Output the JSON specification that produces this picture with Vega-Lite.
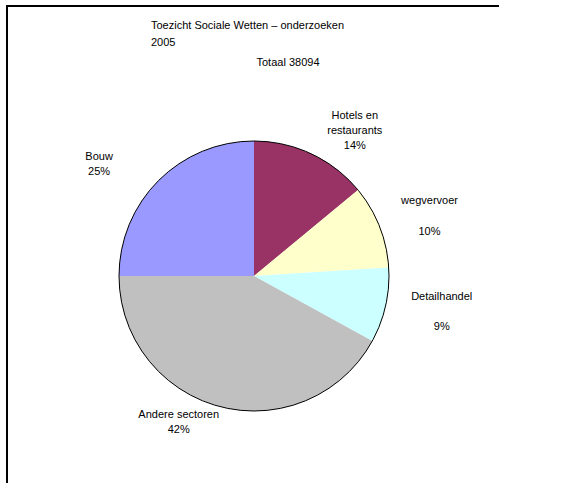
{
  "$schema": "https://vega.github.io/schema/vega-lite/v6.json",
  "autosize": {"type": "none"},
  "padding": {"left": 7, "top": 6, "right": 0, "bottom": 0},
  "width": 494,
  "height": 540,
  "background": "white",
  "config": {
    "view": {"stroke": null},
    "font": "Liberation Sans"
  },
  "title": {
    "text": ["Toezicht Sociale Wetten – onderzoeken", "2005"],
    "anchor": "start",
    "align": "left",
    "dx": 145,
    "offset": -43,
    "font": "Liberation Sans",
    "fontSize": 11,
    "fontWeight": "normal",
    "lineHeight": 17,
    "color": "#000"
  },
  "data": {
    "values": [
      {"rank": 1, "sector": "Hotels en restaurants", "pct": 14, "label": ["Hotels en", "restaurants", "14%"]},
      {"rank": 2, "sector": "wegvervoer", "pct": 10, "label": ["wegvervoer", "10%"]},
      {"rank": 3, "sector": "Detailhandel", "pct": 9, "label": ["Detailhandel", "9%"]},
      {"rank": 4, "sector": "Andere sectoren", "pct": 42, "label": ["Andere sectoren", "42%"]},
      {"rank": 5, "sector": "Bouw", "pct": 25, "label": ["Bouw", "25%"]}
    ]
  },
  "encoding": {
    "theta": {"field": "pct", "type": "quantitative", "stack": true},
    "order": {"field": "rank", "type": "quantitative"}
  },
  "layer": [
    {
      "mark": {
        "type": "rect",
        "fill": null,
        "strokeWidth": 2,
        "stroke": {
          "gradient": "linear",
          "x1": 0, "y1": 0, "x2": 1, "y2": 0,
          "stops": [
            {"offset": 0, "color": "#000"},
            {"offset": 0.995, "color": "#000"},
            {"offset": 0.996, "color": "#fff"},
            {"offset": 1, "color": "#fff"}
          ]
        }
      },
      "encoding": {"theta": null, "order": null}
    },
    {
      "mark": {"type": "arc", "outerRadius": 135},
      "encoding": {
        "color": {
          "field": "sector",
          "type": "nominal",
          "scale": {
            "domain": ["Hotels en restaurants", "wegvervoer", "Detailhandel", "Andere sectoren", "Bouw"],
            "range": ["#993366", "#FFFFCC", "#CCFFFF", "#C0C0C0", "#9999FF"]
          },
          "legend": null
        }
      }
    },
    {
      "transform": [{"aggregate": [{"op": "sum", "field": "pct", "as": "total"}]}],
      "mark": {"type": "arc", "outerRadius": 135, "fill": null, "stroke": "#000", "strokeWidth": 1},
      "encoding": {
        "theta": {"field": "total", "type": "quantitative"},
        "order": null
      }
    },
    {
      "transform": [{"aggregate": [{"op": "sum", "field": "pct", "as": "total"}]}],
      "mark": {"type": "text", "radius": 213, "dx": 34, "fontSize": 11, "color": "#000", "font": "Liberation Sans"},
      "encoding": {
        "theta": {"field": "total", "type": "quantitative", "stack": null},
        "order": null,
        "text": {"value": "Totaal 38094"}
      }
    },
    {
      "mark": {"type": "text", "radius": 178, "dx": 25, "dy": 1, "fontSize": 11, "lineHeight": 15, "color": "#000", "font": "Liberation Sans"},
      "encoding": {"text": {"condition": {"test": "datum.rank == 1", "field": "label"}, "value": ""}}
    },
    {
      "mark": {"type": "text", "radius": 178, "dx": 10, "dy": -9, "fontSize": 11, "lineHeight": 31, "color": "#000", "font": "Liberation Sans"},
      "encoding": {"text": {"condition": {"test": "datum.rank == 2", "field": "label"}, "value": ""}}
    },
    {
      "mark": {"type": "text", "radius": 178, "dx": 14, "dy": -18, "fontSize": 11, "lineHeight": 30, "color": "#000", "font": "Liberation Sans"},
      "encoding": {"text": {"condition": {"test": "datum.rank == 3", "field": "label"}, "value": ""}}
    },
    {
      "mark": {"type": "text", "radius": 178, "dx": -31, "dy": -33, "fontSize": 11, "lineHeight": 15, "color": "#000", "font": "Liberation Sans"},
      "encoding": {"text": {"condition": {"test": "datum.rank == 4", "field": "label"}, "value": ""}}
    },
    {
      "mark": {"type": "text", "radius": 178, "dx": -29, "dy": 7, "fontSize": 11, "lineHeight": 15, "color": "#000", "font": "Liberation Sans"},
      "encoding": {"text": {"condition": {"test": "datum.rank == 5", "field": "label"}, "value": ""}}
    }
  ]
}
